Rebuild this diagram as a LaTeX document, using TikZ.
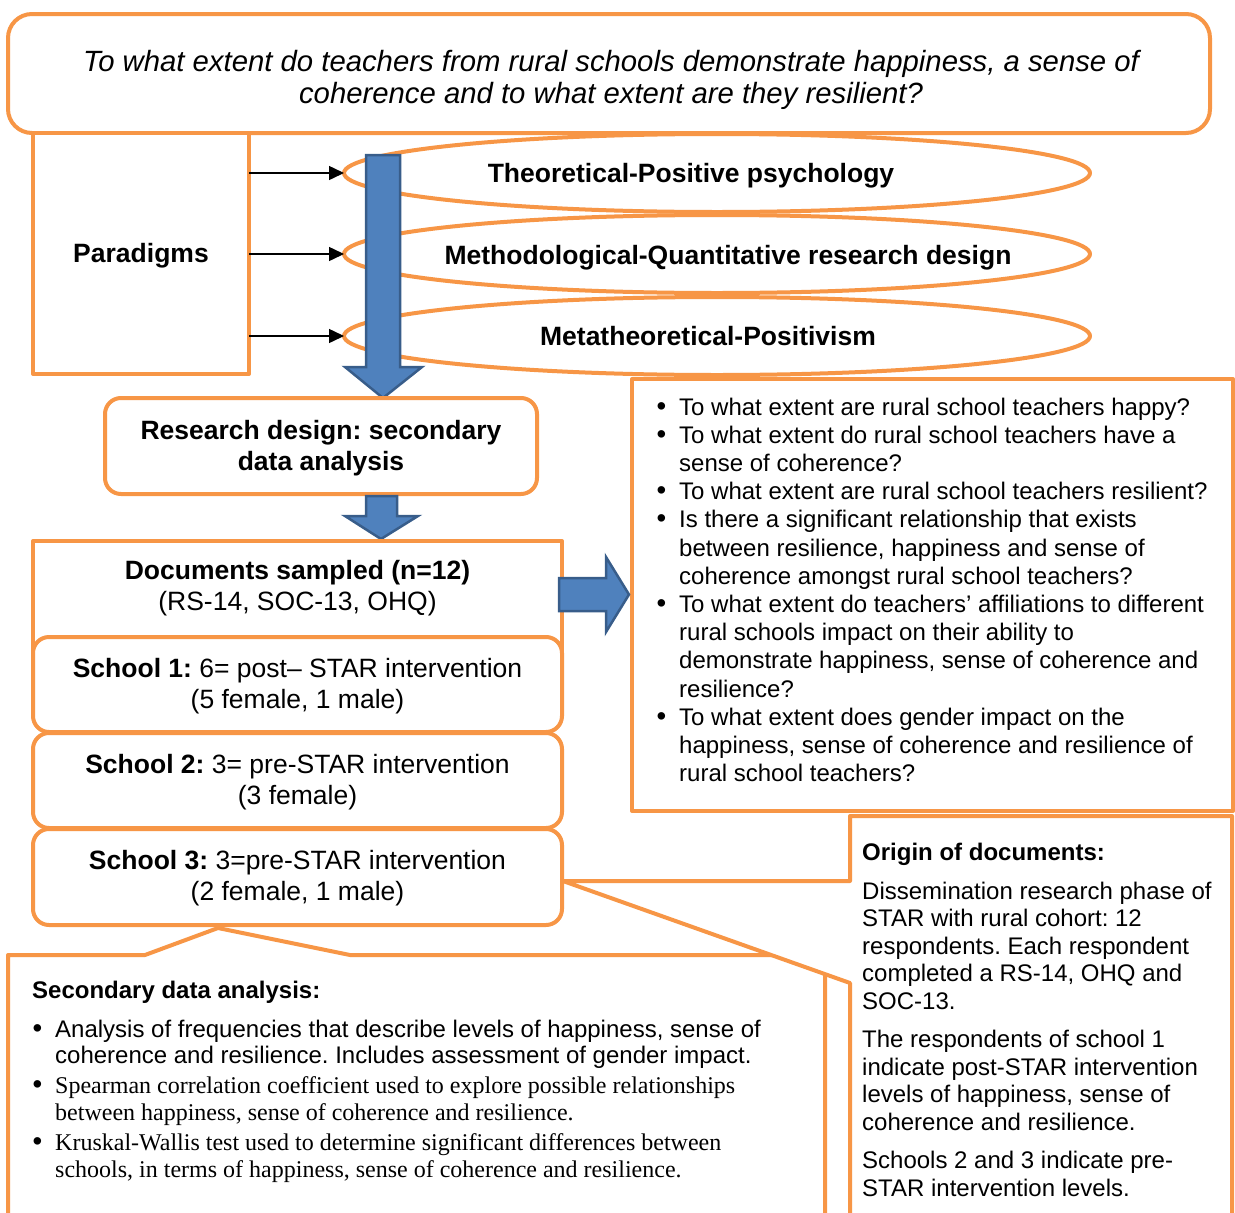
\documentclass[tikz,border=0pt]{standalone}
\usepackage{fontspec}
\setmainfont{Liberation Sans}
\newfontfamily\sdaserif{Liberation Serif}
\frenchspacing
\usetikzlibrary{shapes.geometric,arrows.meta}
\definecolor{boxorange}{HTML}{F79646}
\definecolor{arrowblue}{HTML}{4F81BD}
\definecolor{arrowedge}{HTML}{385D8A}
\newcommand{\qbul}{\llap{\scalebox{1.15}{\textbullet}\hspace{13pt}}}
\tikzset{
  framebox/.style={draw=boxorange, line width=4pt, fill=white, line join=round, inner sep=0pt, outer sep=0pt},
  roundbox/.style={framebox, rounded corners=16pt},
  ovalbox/.style={framebox, ellipse, minimum width=746pt, minimum height=78pt},
  blockarrow/.style={fill=arrowblue, draw=arrowedge, line width=2.5pt, line join=miter},
  thinarrow/.style={draw=black, line width=1.5pt, -{Triangle[length=15pt,width=14pt]}},
  headtext/.style={font=\fontsize{26.5}{30.5}\selectfont\bfseries, inner sep=0pt, align=center, anchor=base},
  schooltext/.style={font=\fontsize{26.5}{30.5}\selectfont, inner sep=0pt, align=center, anchor=base},
  bodytext/.style={font=\fontsize{24}{27.5}\selectfont, inner sep=0pt, align=left, anchor=base west},
}

\begin{document}
\begin{tikzpicture}[x=1pt,y=-1pt]
\useasboundingbox (0,0) rectangle (1235,1213);
% bottom callouts (multi-line texts sit on their last baseline)
\path[framebox] (8,1218) -- (8,955) -- (145,955) -- (218,928) -- (350,955) -- (825,955) -- (825,1218);
\node[bodytext, font=\fontsize{24}{27}\selectfont\bfseries] (sdahead) at (32,998) {Secondary data analysis:};
\node[bodytext, font=\fontsize{24}{26.8}\selectfont] (sdalist) at (55,1177) {\qbul Analysis of frequencies that describe levels of happiness, sense of\\
coherence and resilience. Includes assessment of gender impact.\\[3pt]
\qbul\sdaserif Spearman correlation coefficient used to explore possible relationships\\
\sdaserif between happiness, sense of coherence and resilience.\\[3pt]
\qbul\sdaserif Kruskal-Wallis test used to determine significant differences between\\
\sdaserif schools, in terms of happiness, sense of coherence and resilience.};
\node[framebox, minimum width=601pt, minimum height=432pt] (rq) at (932.5,595) {};
\node[bodytext, font=\fontsize{24}{28.2}\selectfont] (rqlist) at (679,781.6) {\qbul To what extent are rural school teachers happy?\\
\qbul To what extent do rural school teachers have a\\
sense of coherence?\\
\qbul To what extent are rural school teachers resilient?\\
\qbul Is there a significant relationship that exists\\
between resilience, happiness and sense of\\
coherence amongst rural school teachers?\\
\qbul To what extent do teachers’ affiliations to different\\
rural schools impact on their ability to\\
demonstrate happiness, sense of coherence and\\
resilience?\\
\qbul To what extent does gender impact on the\\
happiness, sense of coherence and resilience of\\
rural school teachers?};
\path[framebox] (850,1218) -- (850,983) -- (563,881) -- (850,881) -- (850,816) -- (1232,816) -- (1232,1218);
\node[bodytext] (origin) at (862,1196) {\textbf{Origin of documents:}\\[11pt]
Dissemination research phase of\\
STAR with rural cohort: 12\\
respondents. Each respondent\\
completed a RS-14, OHQ and\\
SOC-13.\\[11pt]
The respondents of school 1\\
indicate post-STAR intervention\\
levels of happiness, sense of\\
coherence and resilience.\\[11pt]
Schools 2 and 3 indicate pre-\\
STAR intervention levels.};
% question and paradigms
\node[framebox, rounded corners=24pt, minimum width=1202pt, minimum height=119pt] (quest) at (609,73.5) {};
\node[headtext, font=\fontsize{29.3}{32.5}\selectfont\itshape] (questtext) at (611,103.5) {To what extent do teachers from rural schools demonstrate happiness, a sense of\\coherence and to what extent are they resilient?};
\node[framebox, minimum width=216pt, minimum height=241pt] (parad) at (141,253.5) {};
\node[headtext] (paradtext) at (141,262) {Paradigms};
\node[ovalbox] (theo) at (717,173) {};
\node[ovalbox] (meth) at (717,254) {};
\node[ovalbox] (meta) at (717,336) {};
\node[headtext] (theotext) at (691,182) {Theoretical-Positive psychology};
\node[headtext] (methtext) at (728,264) {Methodological-Quantitative research design};
\node[headtext] (metatext) at (708,345) {Metatheoretical-Positivism};
\draw[thinarrow] (parad.east |- theo.west) -- (theo.west);
\draw[thinarrow] (parad.east |- meth.west) -- (meth.west);
\draw[thinarrow] (parad.east |- meta.west) -- (meta.west);
\draw[blockarrow] (366,155) -- (400,155) -- (400,367) -- (422,367) -- (383,398) -- (345,367) -- (366,367) -- cycle;
% design and sample
\node[roundbox, minimum width=432pt, minimum height=96pt] (rdesign) at (321,446) {};
\node[headtext] (rdesigntext) at (321,470) {Research design: secondary\\data analysis};
\draw[blockarrow] (366,496) -- (397,496) -- (397,516) -- (418,516) -- (381,539) -- (345,516) -- (366,516) -- cycle;
\node[framebox, minimum width=529pt, minimum height=114pt] (docs) at (297.5,598) {};
\node[schooltext] (docstext) at (297.5,610) {\textbf{Documents sampled (n=12)}\\(RS-14, SOC-13, OHQ)};
\node[roundbox, minimum width=529pt, minimum height=95pt] (school1) at (297.5,684.5) {};
\node[roundbox, minimum width=529pt, minimum height=95pt] (school2) at (297.5,780.5) {};
\node[roundbox, minimum width=529pt, minimum height=96pt] (school3) at (297.5,877) {};
\node[schooltext] (s1text) at (297.5,708) {\textbf{School 1:} 6= post– STAR intervention\\(5 female, 1 male)};
\node[schooltext] (s2text) at (297.5,804) {\textbf{School 2:} 3= pre-STAR intervention\\(3 female)};
\node[schooltext] (s3text) at (297.5,900) {\textbf{School 3:} 3=pre-STAR intervention\\(2 female, 1 male)};
\draw[blockarrow] (559,578) -- (606,578) -- (606,557) -- (629,594.5) -- (606,632) -- (606,611) -- (559,611) -- cycle;
\end{tikzpicture}
\end{document}
